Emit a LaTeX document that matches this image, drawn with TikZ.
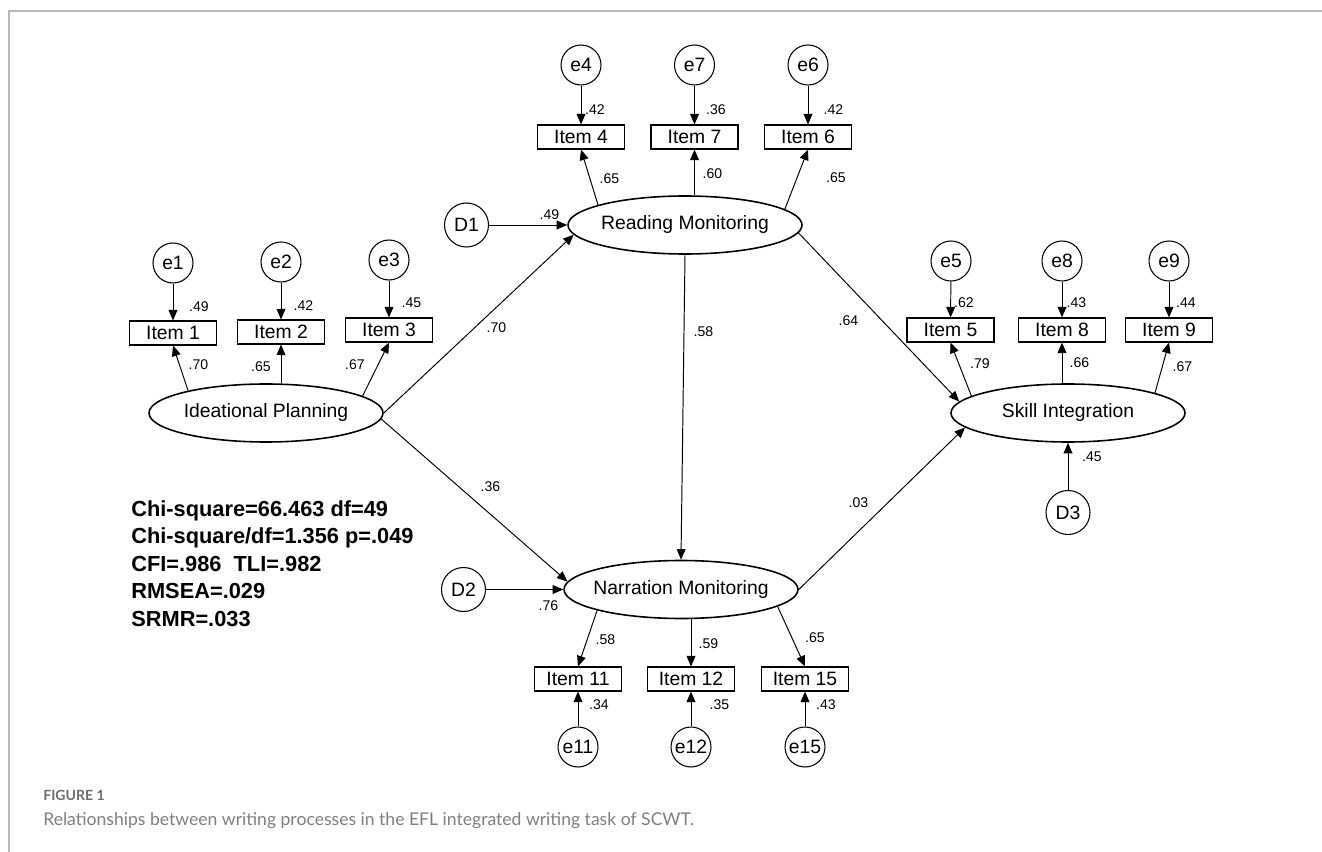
\documentclass[tikz,border=0pt]{standalone}
\usepackage{fontspec}
\setmainfont{Liberation Sans}
\newfontfamily\capfont{Lato}
\usepackage{tikz}
\usetikzlibrary{shapes.geometric, arrows.meta, positioning}
\definecolor{framegray}{RGB}{185,185,185}
\definecolor{figgray}{RGB}{110,110,110}
\definecolor{capgray}{RGB}{128,128,128}

\begin{document}
\begin{tikzpicture}[
    latent/.style={ellipse, draw, line width=0.9pt,
                   minimum width=4.68cm, minimum height=1.16cm,
                   inner xsep=-0.15cm, inner ysep=0pt,
                   font=\fontsize{11}{13}\selectfont},
    item/.style={rectangle, draw, line width=0.6pt,
                 minimum width=1.74cm, minimum height=0.48cm,
                 inner sep=0pt, font=\fontsize{11}{13}\selectfont},
    err/.style={circle, draw, line width=0.6pt, minimum size=0.8cm,
                inner sep=0pt, font=\fontsize{11}{13}\selectfont},
    dist/.style={err, minimum size=0.88cm},
    arr/.style={line width=0.55pt, -{Triangle[length=6pt, width=5pt]}},
    coef/.style={font=\fontsize{8}{9}\selectfont, inner sep=0pt},
    gof/.style={font=\fontsize{12.4}{15.6}\selectfont\bfseries,
                align=left, inner sep=0pt}]

\useasboundingbox (0,0) rectangle (26.44,-17.04);

%% ── Frame ────────────────────────────────────────────────────────────────────
\draw[framegray, line width=0.8pt] (26.44,-0.22) -- (0.18,-0.22) -- (0.18,-17.04);

%% ── Latent variables ─────────────────────────────────────────────────────────
\node[latent] (ip) at (5.32,-8.26)  {Ideational Planning};
\node[latent] (rm) at (13.70,-4.50) {Reading Monitoring};
\node[latent] (nm) at (13.62,-11.79) {Narration Monitoring};
\node[latent] (si) at (21.36,-8.26) {Skill Integration};

%% ── Disturbances ─────────────────────────────────────────────────────────────
\node[dist] (d1) at (9.33,-4.50)  {D1};
\node[dist] (d2) at (9.27,-11.79) {D2};
\node[dist] (d3) at (21.36,-10.25) {D3};

%% ── Ideational Planning items ────────────────────────────────────────────────
\node[item] (item1) at (3.46,-6.66) {Item 1};
\node[item] (item2) at (5.62,-6.64) {Item 2};
\node[item] (item3) at (7.78,-6.60) {Item 3};
\node[err] (e1) at (3.46,-5.26) {e1};
\node[err] (e2) at (5.62,-5.24) {e2};
\node[err] (e3) at (7.78,-5.20) {e3};

%% ── Reading Monitoring items ─────────────────────────────────────────────────
\node[item] (item4) at (11.62,-2.74) {Item 4};
\node[item] (item7) at (13.89,-2.74) {Item 7};
\node[item] (item6) at (16.16,-2.74) {Item 6};
\node[err] (e4) at (11.62,-1.30) {e4};
\node[err] (e7) at (13.89,-1.30) {e7};
\node[err] (e6) at (16.16,-1.30) {e6};

%% ── Skill Integration items ──────────────────────────────────────────────────
\node[item] (item5) at (19.01,-6.60) {Item 5};
\node[item] (item8) at (21.24,-6.60) {Item 8};
\node[item] (item9) at (23.38,-6.60) {Item 9};
\node[err] (e5) at (19.02,-5.22) {e5};
\node[err] (e8) at (21.24,-5.22) {e8};
\node[err] (e9) at (23.38,-5.22) {e9};

%% ── Narration Monitoring items ───────────────────────────────────────────────
\node[item] (item11) at (11.56,-13.58) {Item 11};
\node[item] (item12) at (13.82,-13.58) {Item 12};
\node[item] (item15) at (16.10,-13.58) {Item 15};
\node[err] (e11) at (11.56,-14.94) {e11};
\node[err] (e12) at (13.82,-14.94) {e12};
\node[err] (e15) at (16.10,-14.94) {e15};

%% ── Structural paths ─────────────────────────────────────────────────────────
\draw[arr] (ip.east) -- (rm.185);
\draw[arr] (ip.-3) -- (nm.176);
\draw[arr] (rm.south) -- (nm.north);
\draw[arr] (rm.-4) -- (si.174);
\draw[arr] (nm.east) -- (si.188);
\draw[arr] (d1) -- (rm.west);
\draw[arr] (d2) -- (nm.west);
\draw[arr] (d3) -- (si.south);

\node[coef] (w-iprm) at (9.93,-6.55)  {.70};
\node[coef] (w-ipnm) at (9.81,-9.73)  {.36};
\node[coef] (w-rmnm) at (14.07,-6.63) {.58};
\node[coef] (w-rmsi) at (16.97,-6.42) {.64};
\node[coef] (w-nmsi) at (17.17,-10.05) {.03};
\node[coef] (w-d1) at (10.99,-4.29) {.49};
\node[coef] (w-d2) at (10.97,-12.11) {.76};
\node[coef] (w-d3) at (21.84,-9.14) {.45};

%% ── Measurement paths ────────────────────────────────────────────────────────
%% Ideational Planning
\draw[arr] (ip.164) -- (item1.south);
\draw[arr] (ip.north -| item2.south) -- (item2.south);
\draw[arr] (ip.10) -- (item3.south);
\draw[arr] (e1) -- (item1);
\draw[arr] (e2) -- (item2);
\draw[arr] (e3) -- (item3);
\node[coef] (l-1) at (3.97,-7.30) {.70};
\node[coef] (l-2) at (5.22,-7.33) {.65};
\node[coef] (l-3) at (7.10,-7.30) {.67};
\node[coef] (r-1) at (3.98,-6.13) {.49};
\node[coef] (r-2) at (6.07,-6.12) {.42};
\node[coef] (r-3) at (8.23,-6.05) {.45};

%% Reading Monitoring
\draw[arr] (rm.167) -- (item4.south);
\draw[arr] (rm.north -| item7.south) -- (item7.south);
\draw[arr] (rm.9) -- (item6.south);
\draw[arr] (e4) -- (item4);
\draw[arr] (e7) -- (item7);
\draw[arr] (e6) -- (item6);
\node[coef] (l-4) at (12.19,-3.57) {.65};
\node[coef] (l-7) at (14.25,-3.47) {.60};
\node[coef] (l-6) at (16.72,-3.56) {.65};
\node[coef] (r-4) at (11.90,-2.20) {.42};
\node[coef] (r-7) at (14.32,-2.20) {.36};
\node[coef] (r-6) at (16.67,-2.20) {.42};

%% Skill Integration
\draw[arr] (si.170) -- (item5.south);
\draw[arr] (si.north -| item8.south) -- (item8.south);
\draw[arr] (si.13) -- (item9.south);
\draw[arr] (e5) -- (item5);
\draw[arr] (e8) -- (item8);
\draw[arr] (e9) -- (item9);
\node[coef] (l-5) at (19.60,-7.28) {.79};
\node[coef] (l-8) at (21.59,-7.25) {.66};
\node[coef] (l-9) at (23.65,-7.33) {.67};
\node[coef] (r-5) at (19.28,-6.05) {.62};
\node[coef] (r-8) at (21.53,-6.05) {.43};
\node[coef] (r-9) at (23.72,-6.05) {.44};

%% Narration Monitoring
\draw[arr] (nm.194) -- (item11.north);
\draw[arr] (nm.south -| item12.north) -- (item12.north);
\draw[arr] (nm.350) -- (item15.north);
\draw[arr] (e11) -- (item11);
\draw[arr] (e12) -- (item12);
\draw[arr] (e15) -- (item15);
\node[coef] (l-11) at (12.11,-12.80) {.58};
\node[coef] (l-12) at (14.17,-12.88) {.59};
\node[coef] (l-15) at (16.30,-12.75) {.65};
\node[coef] (r-11) at (11.98,-14.10) {.34};
\node[coef] (r-12) at (14.39,-14.10) {.35};
\node[coef] (r-15) at (16.52,-14.10) {.43};

%% ── Fit indices ──────────────────────────────────────────────────────────────
%% (base = last line of the block)
\node[gof, anchor=base west] (gof) at (2.62,-12.52)
    {Chi-square=66.463 df=49\\Chi-square/df=1.356 p=.049\\
     CFI=.986\ \ TLI=.982\\RMSEA=.029\\SRMR=.033};

%% ── Caption ──────────────────────────────────────────────────────────────────
\node[anchor=base west, inner sep=0pt, text=figgray,
      font=\capfont\bfseries\fontsize{8}{9}\selectfont] (fig) at (0.86,-16.01)
    {FIGURE 1};
\node[anchor=base west, inner sep=0pt, text=capgray,
      font=\capfont\fontsize{10}{12}\selectfont] (cap) at (0.86,-16.50)
    {Relationships between writing processes in the EFL integrated writing task of SCWT.};

\end{tikzpicture}
\end{document}
